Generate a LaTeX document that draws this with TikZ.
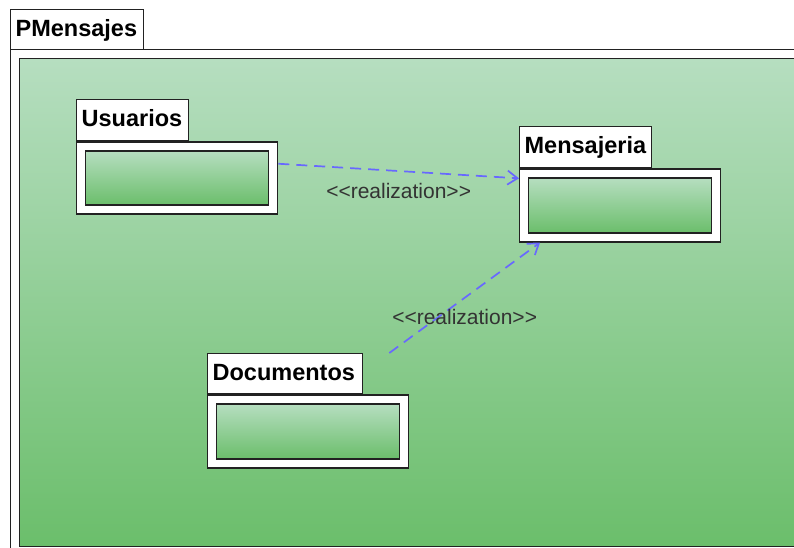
\documentclass[tikz,border=0pt]{standalone}
\usepackage{fontspec}
\setmainfont{Liberation Sans}
\usetikzlibrary{arrows.meta,calc}
\definecolor{gtop}{RGB}{182,222,192}
\definecolor{gbot}{RGB}{107,190,107}
\definecolor{edgec}{RGB}{34,34,34}
\definecolor{depc}{RGB}{104,104,255}
\begin{document}
\begin{tikzpicture}[x=1pt,y=-1pt,
  tabbox/.style={draw=edgec, line width=1.3pt, fill=white, anchor=north west,
    font=\fontsize{23.5}{28}\selectfont\bfseries, inner xsep=5pt, inner ysep=0pt, align=left,
    text height=17pt, text depth=4pt},
  pkgbody/.style={draw=edgec, line width=1.3pt, fill=white, anchor=north west,
    minimum width=201pt, minimum height=73pt, inner sep=0pt},
  pkgin/.style={draw=edgec, line width=1.3pt, top color=gtop, bottom color=gbot, anchor=north west,
    minimum width=183pt, minimum height=55pt, inner sep=0pt},
  realiz/.style={draw=depc, line width=1.7pt, dash pattern=on 11pt off 7pt,
    -{Straight Barb[length=10pt,width=14pt,line width=1.7pt]}},
  lbl/.style={font=\fontsize{21}{25}\selectfont, text=black!80, inner sep=0pt}]
\clip (0,0) rectangle (794,548);
\fill[white] (0,0) rectangle (794,548);
% outer package
\node[draw=edgec, line width=1.3pt, fill=white, anchor=north west, minimum width=800pt, minimum height=510pt, inner sep=0pt] (outer) at (10,49) {};
\node[draw=edgec, line width=1.3pt, top color=gtop, bottom color=gbot, anchor=north west, minimum width=790pt, minimum height=488pt, inner sep=0pt] (green) at (19,58) {};
\node[tabbox, text width=123pt, minimum height=40pt] (ptab) at (10,9) {PMensajes};
% Usuarios
\node[tabbox, text width=102pt, minimum height=41pt] (utab) at (76,99) {Usuarios};
\node[pkgbody, minimum height=72pt] (ubody) at (utab.south west) {};
\node[pkgin, minimum height=54pt] (uin) at ($(ubody.north west)+(9,9)$) {};
% Mensajeria
\node[tabbox, text width=122pt, minimum height=41pt] (mtab) at (519,126) {Mensajeria};
\node[pkgbody] (mbody) at (mtab.south west) {};
\node[pkgin] (min) at ($(mbody.north west)+(9,9)$) {};
% Documentos
\node[tabbox, text width=145pt, minimum height=40pt] (dtab) at (207,353) {Documentos};
\node[pkgbody] (dbody) at (dtab.south west) {};
\node[pkgin] (din) at ($(dbody.north west)+(9,9)$) {};
% realizations
\draw[realiz] (ubody.8) -- node[lbl, below=11pt] (l1) {<\kern0pt<realization>\kern0pt>} (mbody.165);
\draw[realiz] ($(dtab.north east)+(26,0)$) -- node[lbl, below=11pt] (l2) {<\kern0pt<realization>\kern0pt>} ($(mbody.south west)+(21,0)$);
\end{tikzpicture}
\end{document}
